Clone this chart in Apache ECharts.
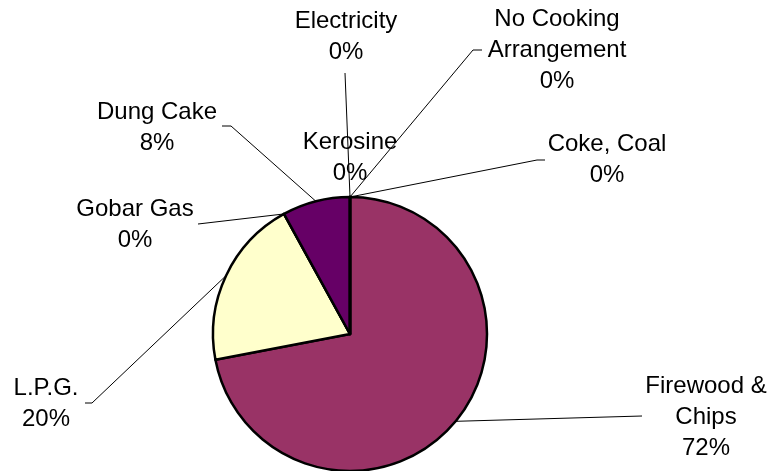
<!DOCTYPE html>
<html>
<head>
<meta charset="utf-8">
<script src="https://cdn.jsdelivr.net/npm/echarts@6/dist/echarts.min.js"></script>
<style>
  html, body { margin: 0; padding: 0; background: #ffffff; }
  #chart { width: 771px; height: 471px; }
</style>
</head>
<body>
<div id="chart"></div>
<script>
// Cooking fuel shares (percent), in slice order clockwise from 12 o'clock
const categories = ['Coke, Coal', 'Firewood &\nChips', 'L.P.G.', 'Gobar Gas', 'Dung Cake', 'Kerosine', 'Electricity', 'No Cooking\nArrangement'];
const shares = [0, 72, 20, 0, 8, 0, 0, 0];
const sliceColors = ['#9999FF', '#993366', '#FFFFCC', '#CCFFFF', '#660066', '#FF8080', '#0066CC', '#CCCCFF'];

// Label block centres and the elbow points of each leader line
const labelPlaces = [
  { cx: 607, cy: 160, elbow: [[537, 160], [545, 160]] },
  { cx: 706, cy: 417, elbow: [[642, 416], [642, 416]] },
  { cx: 46,  cy: 404, elbow: [[92, 403], [85, 403]] },
  { cx: 135, cy: 225, elbow: [[198, 224], [198, 224]] },
  { cx: 157, cy: 128, elbow: [[231, 126], [222, 126]] },
  { cx: 350, cy: 158, elbow: null },
  { cx: 346, cy: 37,  elbow: [[345, 73], [345, 73]] },
  { cx: 557, cy: 50,  elbow: [[473, 50], [482, 50]] }
];

const chart = echarts.init(document.getElementById('chart'), null, { renderer: 'canvas' });

const pieData = categories.map((name, i) => ({
  name: name,
  value: shares[i],
  itemStyle: { color: sliceColors[i] }
}));

chart.setOption({
  backgroundColor: '#ffffff',
  animation: false,
  series: [{
    type: 'pie',
    center: [350, 334],
    radius: 137,
    startAngle: 90,
    clockwise: true,
    avoidLabelOverlap: false,
    percentPrecision: 0,
    data: pieData,
    itemStyle: { borderColor: '#000000', borderWidth: 2.5 },
    label: {
      show: true,
      position: 'outside',
      formatter: '{b}\n{d}%',
      color: '#000000',
      fontFamily: '"Liberation Sans", Arial, sans-serif',
      fontSize: 24,
      lineHeight: 31,
      align: 'center'
    },
    labelLine: {
      show: true,
      smooth: false,
      lineStyle: { color: '#000000', width: 1 }
    },
    emphasis: { disabled: true },
    labelLayout: function (params) {
      const place = labelPlaces[params.dataIndex];
      const start = params.labelLinePoints ? params.labelLinePoints[0] : null;
      const out = {
        x: place.cx,
        y: place.cy,
        align: 'center',
        verticalAlign: 'middle'
      };
      if (start) {
        out.labelLinePoints = place.elbow
          ? [start, place.elbow[0], place.elbow[1]]
          : [start, start, start];
      }
      return out;
    }
  }]
});
</script>
</body>
</html>
